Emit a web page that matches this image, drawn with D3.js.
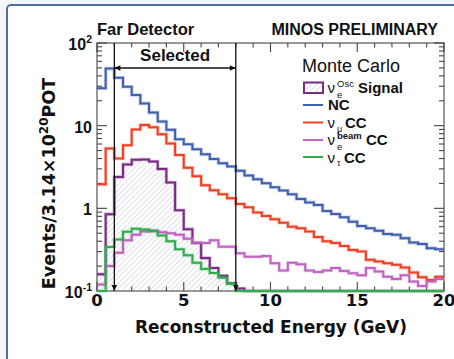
<!DOCTYPE html>
<html><head><meta charset="utf-8">
<script src="https://cdn.jsdelivr.net/npm/d3@7"></script>
<style>
html,body{margin:0;padding:0;background:#f4f5f7;}
svg{display:block;}
</style></head><body>
<svg id="chart" width="454" height="359"></svg>
<script>
// ---- data ----
const binLowEdges = [0,0.5,1,1.5,2,2.5,3,3.5,4,4.5,5,5.5,6,6.5,7,7.5,8,8.5,9,9.5,
  10,10.5,11,11.5,12,12.5,13,13.5,14,14.5,15,15.5,16,16.5,17,17.5,18,18.5,19,19.5];
const energyMax = 20;
const ncValues = [28.3,49,38,29.6,23.5,18.6,14.4,11.2,8.9,6.85,
  5.96,5.19,4.5,3.95,3.5,3.2,2.85,2.5,2.25,2.01,
  1.8,1.64,1.48,1.30,1.18,1.1,0.93,0.855,0.78,0.69,
  0.61,0.575,0.537,0.49,0.478,0.436,0.385,0.37,0.33,0.32];
const numuCCValues = [1.95,5.3,4.0,5.8,9.0,10.2,9.6,7.9,6.1,4.42,
  3.1,2.45,1.9,1.65,1.48,1.32,1.13,1.03,0.89,0.81,
  0.74,0.67,0.60,0.575,0.525,0.45,0.40,0.38,0.35,0.314,
  0.30,0.238,0.227,0.217,0.208,0.192,0.167,0.147,0.136,0.149];
const signalValues = [0.16,0.85,2.4,3.4,3.88,3.9,3.68,3.0,2.05,0.95,
  0.56,0.38,0.25,0.19,0.153,0.124,0.107,0.05,0.05,0.05,
  0.05,0.05,0.05,0.05,0.05,0.05,0.05,0.05,0.05,0.05,
  0.05,0.05,0.05,0.05,0.05,0.05,0.05,0.05,0.05,0.05];
const beamNueCCValues = [0.12,0.2,0.29,0.41,0.48,0.525,0.54,0.515,0.5,0.48,
  0.43,0.385,0.38,0.41,0.344,0.344,0.286,0.26,0.26,0.265,
  0.217,0.177,0.22,0.21,0.177,0.17,0.177,0.19,0.175,0.164,
  0.155,0.19,0.172,0.149,0.14,0.155,0.13,0.115,0.13,0.14];
const nutauCCValues = [0.05,0.34,0.42,0.52,0.565,0.555,0.53,0.47,0.40,0.32,
  0.27,0.22,0.185,0.165,0.145,0.122,0.05,0.05,0.05,0.05,
  0.05,0.05,0.05,0.05,0.05,0.05,0.05,0.05,0.05,0.05,
  0.05,0.05,0.05,0.05,0.05,0.05,0.05,0.05,0.05,0.05];
const xTickValues = [0,5,10,15,20];
const xTickLabels = ["0","5","10","15","20"];
const yTickValues = [0.1,1,10,100];
const yTickLabels = [["10","-1"],["1",""],["10",""],["10","2"]];
const selectedRange = [1,8];

// ---- layout ----
const W = 454, H = 359;
const L = 97, R = 444, T = 43, B = 291;
const svg = d3.select("#chart");
const ARIAL = "'Liberation Sans', Arial, Helvetica, sans-serif";
const DEJA = "'DejaVu Sans', sans-serif";

const x = d3.scaleLinear().domain([0, energyMax]).range([L, R]);
const y = d3.scaleLog().domain([0.1, 100]).range([B, T]).clamp(true);

// page frame
svg.append("rect").attr("x",7).attr("y",5).attr("width",470).attr("height",380)
  .attr("rx",4).attr("fill","#ffffff").attr("stroke","#4d6fa3").attr("stroke-width",2);

const defs = svg.append("defs");
const pat = defs.append("pattern").attr("id","hatch").attr("patternUnits","userSpaceOnUse")
  .attr("width",5.5).attr("height",5.5);
pat.append("path").attr("d","M-1,1 L1,-1 M0,5.5 L5.5,0 M4.5,6.5 L6.5,4.5")
  .attr("stroke","#cdc5da").attr("stroke-width",0.8).attr("fill","none");

// ---- histogram helpers ----
function stepPoints(vals){
  const pts = binLowEdges.map((e,i)=>[e, vals[i]]);
  pts.push([energyMax, vals[vals.length-1]]);
  return pts;
}
const line = d3.line().x(d=>x(d[0])).y(d=>y(d[1])).curve(d3.curveStepAfter);
const area = d3.area().x(d=>x(d[0])).y0(B).y1(d=>y(d[1])).curve(d3.curveStepAfter);

// signal hatch
svg.append("path").datum(stepPoints(signalValues)).attr("d", area)
  .attr("fill","url(#hatch)").attr("stroke","none");

// axes frame
const axisColor = "#6e6e6e";
svg.append("rect").attr("x",L).attr("y",T).attr("width",R-L).attr("height",B-T)
  .attr("fill","none").attr("stroke",axisColor).attr("stroke-width",1.4);

// x ticks (bottom up, top down)
const gAx = svg.append("g").attr("stroke","#444").attr("stroke-width",1.1);
d3.range(0, energyMax+0.001, 1).forEach(v=>{
  const major = xTickValues.includes(v);
  const len = major ? 9 : 4.5;
  gAx.append("line").attr("x1",x(v)).attr("x2",x(v)).attr("y1",B).attr("y2",B-len);
  gAx.append("line").attr("x1",x(v)).attr("x2",x(v)).attr("y1",T).attr("y2",T+len);
});
// y ticks (log)
yTickValues.forEach((dec,i)=>{
  [1,2,3,4,5,6,7,8,9].forEach(m=>{
    const v = dec*m;
    if (v > 100 + 1e-9) return;
    const len = m===1 ? 10 : 5;
    gAx.append("line").attr("x1",L).attr("x2",L+len).attr("y1",y(v)).attr("y2",y(v));
    gAx.append("line").attr("x1",R).attr("x2",R-len).attr("y1",y(v)).attr("y2",y(v));
  });
});

// x tick labels
svg.append("g").selectAll("text").data(xTickValues).join("text")
  .attr("x", d=>x(d)).attr("y", 305.5).attr("text-anchor","middle")
  .attr("font-family",DEJA).attr("font-weight","bold").attr("font-size",16.5).attr("fill","#111")
  .text((d,i)=>xTickLabels[i]);

// y tick labels
yTickValues.forEach((v,i)=>{
  const t = svg.append("text").attr("x",92).attr("y",y(v)+7).attr("text-anchor","end")
    .attr("font-family",ARIAL).attr("font-weight","bold").attr("font-size",16).attr("fill","#111");
  t.append("tspan").text(yTickLabels[i][0]);
  if (yTickLabels[i][1]) {
    t.append("tspan").attr("font-size",10.5).attr("dy",-7).text(yTickLabels[i][1]);
  }
});

// histograms
const series = [
  {vals: signalValues, color:"#7a2b86"},
  {vals: ncValues, color:"#3f5fb0"},
  {vals: numuCCValues, color:"#f03f22"},
  {vals: beamNueCCValues, color:"#c062c0"},
  {vals: nutauCCValues, color:"#2fae4c"}
];
series.forEach(s=>{
  svg.append("path").datum(stepPoints(s.vals)).attr("d",line)
    .attr("fill","none").attr("stroke",s.color).attr("stroke-opacity",0.3).attr("stroke-width",3.6);
  svg.append("path").datum(stepPoints(s.vals)).attr("d",line)
    .attr("fill","none").attr("stroke",s.color).attr("stroke-width",2);
});

// selection markers
const sx1 = x(selectedRange[0]), sx2 = x(selectedRange[1]);
const gs = svg.append("g");
[sx1, sx2].forEach(sx=>{
  gs.append("line").attr("x1",sx).attr("x2",sx).attr("y1",T).attr("y2",B)
    .attr("stroke","#111").attr("stroke-width",1.3);
  gs.append("path").attr("d",`M${sx-2.8},${B-6} L${sx+2.8},${B-6} L${sx},${B} Z`).attr("fill","#111");
});
const ay = 68;
gs.append("line").attr("x1",sx1).attr("x2",sx2).attr("y1",ay).attr("y2",ay)
  .attr("stroke","#111").attr("stroke-width",1.3);
gs.append("path").attr("d",`M${sx1},${ay} L${sx1+6},${ay-2.8} L${sx1+6},${ay+2.8} Z`).attr("fill","#111");
gs.append("path").attr("d",`M${sx2},${ay} L${sx2-6},${ay-2.8} L${sx2-6},${ay+2.8} Z`).attr("fill","#111");
svg.append("text").attr("x",(sx1+sx2)/2).attr("y",60.5).attr("text-anchor","middle")
  .attr("font-family",ARIAL).attr("font-weight","bold").attr("font-size",17).attr("fill","#111")
  .text("Selected");

// titles
svg.append("text").attr("x",97).attr("y",35)
  .attr("font-family",ARIAL).attr("font-weight","bold").attr("font-size",16.5).attr("fill","#111")
  .text("Far Detector");
svg.append("text").attr("x",438).attr("y",35).attr("text-anchor","end")
  .attr("font-family",ARIAL).attr("font-weight","bold").attr("font-size",16).attr("fill","#111")
  .text("MINOS PRELIMINARY");

// axis titles
svg.append("text").attr("x",271).attr("y",333).attr("text-anchor","middle")
  .attr("font-family",DEJA).attr("font-weight","bold").attr("font-size",17).attr("fill","#111")
  .text("Reconstructed Energy (GeV)");
const yt = svg.append("text").attr("transform","translate(55,183.5) rotate(-90)")
  .attr("text-anchor","middle")
  .attr("font-family",DEJA).attr("font-weight","bold").attr("font-size",17.5).attr("fill","#111");
yt.append("tspan").text("Events/3.14\u00d710");
yt.append("tspan").attr("font-size",12).attr("dy",-7).text("20");
yt.append("tspan").attr("dy",7).text("POT");

// legend
const lg = svg.append("g");
lg.append("text").attr("x",302).attr("y",72).attr("font-family",ARIAL).attr("font-size",18).attr("fill","#111")
  .text("Monte Carlo");
lg.append("rect").attr("x",304).attr("y",82.5).attr("width",19).attr("height",10.5)
  .attr("fill","url(#hatch)").attr("stroke","#7a2b86").attr("stroke-width",2);
const legendItems = [
  {name:"NC", color:"#3f5fb0", ly:105},
  {name:"numu", color:"#f03f22", ly:122.5},
  {name:"beam", color:"#c062c0", ly:140},
  {name:"tau", color:"#2fae4c", ly:157}
];
legendItems.forEach(it=>{
  lg.append("line").attr("x1",303).attr("x2",323).attr("y1",it.ly).attr("y2",it.ly)
    .attr("stroke",it.color).attr("stroke-width",2);
});
function txt(xp, yp, s, size, bold){
  return lg.append("text").attr("x",xp).attr("y",yp).attr("font-family",ARIAL)
    .attr("font-size",size).attr("font-weight",bold?"bold":"normal").attr("fill","#111").text(s);
}
// signal
txt(327.5,93,"\u03bd",15,false);
txt(337,86.5,"Osc",9.5,false);
txt(337,97.5,"e",9.5,false);
txt(358,93,"Signal",15,true);
// NC
txt(328,110,"NC",15,true);
// numu CC
txt(327.5,128,"\u03bd",15,false);
txt(337,131.5,"\u03bc",9,false);
txt(345,128,"CC",15,true);
// beam nue CC
txt(327.5,145,"\u03bd",15,false);
txt(337,138.5,"beam",9.5,true);
txt(337,149.5,"e",9.5,false);
txt(366,145,"CC",15,true);
// nutau CC
txt(327.5,162.5,"\u03bd",15,false);
txt(337,166,"\u03c4",9,false);
txt(344,162.5,"CC",15,true);
</script>
</body></html>
